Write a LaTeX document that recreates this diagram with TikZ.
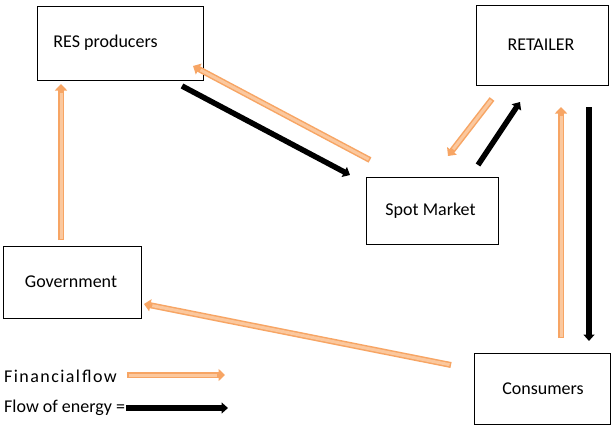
\documentclass[tikz,border=0pt]{standalone}
\usepackage{fontspec}
\setmainfont{Carlito}
\usetikzlibrary{arrows.meta}
\definecolor{finD}{RGB}{247,165,100}
\definecolor{finL}{RGB}{251,200,158}
\tikzset{
  box/.style={draw=black, line width=0.8pt, fill=white, inner sep=0pt, font=\fontsize{18}{21}\selectfont},
  finouter/.style={finD, line width=6pt, -{Triangle[length=6.5pt,width=12pt]}},
  fininner/.style={finL, line width=3pt, shorten >=8.5pt, shorten <=1.5pt},
  energy/.style={black, line width=5.5pt, -{Triangle[length=6.5pt,width=11pt]}},
  lbl/.style={font=\fontsize{18}{21}\selectfont, anchor=west, inner sep=0pt}
}
\newcommand\finarrow[2]{%
  \draw[finouter] (#1) -- (#2);
  \draw[fininner] (#1) -- (#2);}
\begin{document}
\begin{tikzpicture}[x=1pt,y=-1pt]
\useasboundingbox (0,0) rectangle (613,428);
\fill[white] (0,0) rectangle (613,428);
% boxes
\node[box, minimum width=166pt, minimum height=74pt] (res) at (120,43) {\hspace*{-29pt}RES producers};
\node[box, minimum width=132pt, minimum height=80pt] (ret) at (542,45) {\hspace*{-2pt}RETAILER};
\node[box, minimum width=132pt, minimum height=67pt] (spot) at (432,210.5) {\hspace*{-3pt}Spot Market};
\node[box, minimum width=138pt, minimum height=72pt] (gov) at (72,282) {\hspace*{-2pt}Government};
\node[box, minimum width=136pt, minimum height=71pt] (con) at (542,388.5) {\hspace*{2pt}Consumers};
% arrow endpoints
\coordinate (e1s) at (182,86);  \coordinate (e1e) at (350,175);
\coordinate (f1s) at (370,160); \coordinate (f1e) at (193,66);
\coordinate (f2s) at (492,99);  \coordinate (f2e) at (448,156);
\coordinate (e2s) at (478,165); \coordinate (e2e) at (520,102);
\coordinate (f3s) at (561,338); \coordinate (f3e) at (561,107);
\coordinate (e3s) at (589,107); \coordinate (e3e) at (589,341);
\coordinate (f4s) at (61,240);  \coordinate (f4e) at (61,84);
\coordinate (f5s) at (451,365); \coordinate (f5e) at (144,304);
\coordinate (lf1) at (127,375); \coordinate (lf2) at (225,375);
\coordinate (le1) at (126,408); \coordinate (le2) at (228,408);
% flows
\draw[energy] (e1s) -- (e1e);
\finarrow{f1s}{f1e}
\finarrow{f2s}{f2e}
\draw[energy] (e2s) -- (e2e);
\finarrow{f3s}{f3e}
\draw[energy] (e3s) -- (e3e);
\finarrow{f4s}{f4e}
\finarrow{f5s}{f5e}
% legend
\node[lbl] (lfin) at (4,376) {\addfontfeature{LetterSpace=8}Financial\hspace{2pt}flow};
\node[lbl] (len) at (4,408) {Flow of energy =};
\finarrow{lf1}{lf2}
\draw[energy] (le1) -- (le2);
\end{tikzpicture}
\end{document}
